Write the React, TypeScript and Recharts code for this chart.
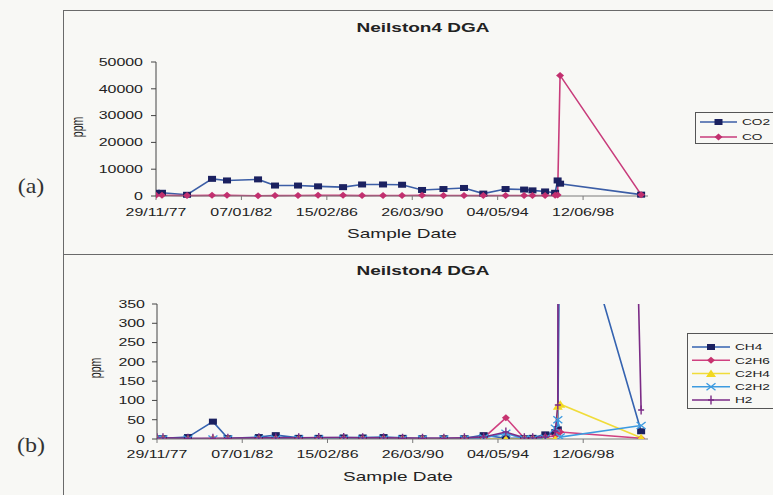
import { LineChart, Line, XAxis, YAxis } from 'recharts';

// oil sample dates (yyyy-mm-dd), shared by both panels
const sampleDates = [
  '1977-11-29', '1978-03-14', '1979-05-28', '1980-08-09', '1981-04-29',
  '1982-10-26', '1983-08-20', '1984-09-27', '1985-09-14', '1986-11-27',
  '1987-10-27', '1988-10-29', '1989-09-28', '1990-09-14', '1991-09-25',
  '1992-09-20', '1993-08-25', '1994-09-20', '1995-08-11', '1996-01-05',
  '1996-08-14', '1997-02-06', '1997-03-22', '1997-05-04', '2001-03-27',
];

// panel (a), ppm
const co2 = [1200, 1200, 450, 6400, 5800, 6200, 3900, 3900, 3600, 3300, 4300, 4300, 4200, 2250, 2600, 3000, 900, 2600, 2400, 2100, 1700, 1200, 5800, 4600, 500];
const co = [300, 300, 150, 250, 300, 100, 150, 200, 250, 250, 150, 200, 200, 250, 200, 200, 150, 200, 200, 150, 200, 250, 400, 45000, 500];

// panel (b), ppm
const ch4 = [2, 2, 5, 45, 2, 5, 10, 3, 3, 4, 4, 5, 3, 2, 2, 2, 10, 2, 2, 3, 12, 18, 25, 740, 20];
const c2h6 = [1, 1, 0, 1, 1, 1, 1, 1, 1, 2, 2, 2, 2, 1, 1, 1, 3, 55, 2, 2, 5, 8, 18, 18, 2];
const c2h4 = [0, 0, 0, 0, 0, 0, 0, 0, 0, 0, 0, 0, 0, 0, 0, 0, 0, 0, 0, 0, 0, 0, 85, 90, 3];
const c2h2 = [0, 0, 0, 0, 0, 0, 0, 0, 0, 0, 0, 0, 0, 0, 0, 0, 3, 15, 0, 0, 2, 28, 50, 5, 35];
const h2 = [3, 3, 2, 2, 2, 3, 3, 3, 4, 4, 3, 3, 2, 2, 2, 3, 5, 18, 3, 3, 5, 20, 88, 9000, 75];

// date axis: ticks every 1500 days
const axisTickDates = ['1977-11-29', '1982-01-07', '1986-02-15', '1990-03-26', '1994-05-04', '1998-06-12'];
const axisEndDate = '2001-07-26';
const topTicks = [0, 10000, 20000, 30000, 40000, 50000];
const bottomTicks = [0, 50, 100, 150, 200, 250, 300, 350];

const toTime = (s: string) => Date.parse(s + 'T00:00:00Z');
const pad = (n: number) => (n < 10 ? '0' + n : '' + n);
const fmtDate = (t: number) => {
  const d = new Date(t);
  return `${pad(d.getUTCDate())}/${pad(d.getUTCMonth() + 1)}/${pad(d.getUTCFullYear() % 100)}`;
};

const xTicks = axisTickDates.map(toTime);
const xDomain = [toTime(axisTickDates[0]), toTime(axisEndDate)];

const topData = sampleDates.map((d, i) => ({ t: toTime(d), CO2: co2[i], CO: co[i] }));
const bottomData = sampleDates.map((d, i) => ({
  t: toTime(d),
  CH4: ch4[i],
  C2H6: c2h6[i],
  C2H4: c2h4[i],
  C2H2: c2h2[i],
  H2: h2[i],
}));

const FONT = "'Liberation Sans', Arial, sans-serif";
const STRETCH = 1.52; // the scan is widened horizontally
const INK = '#222';

const topSeries = [
  { key: 'CO2', line: '#3c5ea6', mark: '#1b2160', shape: 'square' },
  { key: 'CO', line: '#c83c7b', mark: '#c2306f', shape: 'diamond' },
];
const bottomSeries = [
  { key: 'CH4', line: '#3563b0', mark: '#1b2160', shape: 'square' },
  { key: 'C2H6', line: '#d04080', mark: '#c7336f', shape: 'diamond' },
  { key: 'C2H4', line: '#f0dc3a', mark: '#f2d820', shape: 'triangle' },
  { key: 'C2H2', line: '#3d9be0', mark: '#3d9be0', shape: 'cross' },
  { key: 'H2', line: '#7b2b86', mark: '#7b2b86', shape: 'plus' },
];

function Marker({ shape, x, y, color }: { shape: string; x: number; y: number; color: string }) {
  if (shape === 'square') return <rect x={x - 4} y={y - 3} width={8} height={6} fill={color} />;
  if (shape === 'diamond')
    return <polygon points={`${x},${y - 3.5} ${x + 4},${y} ${x},${y + 3.5} ${x - 4},${y}`} fill={color} />;
  if (shape === 'triangle')
    return <polygon points={`${x},${y - 4} ${x + 5},${y + 3.5} ${x - 5},${y + 3.5}`} fill={color} />;
  if (shape === 'cross')
    return (
      <path
        d={`M${x - 4.5},${y - 3.5}L${x + 4.5},${y + 3.5}M${x - 4.5},${y + 3.5}L${x + 4.5},${y - 3.5}`}
        stroke={color}
        strokeWidth={1.4}
        fill="none"
      />
    );
  return <path d={`M${x},${y - 4.5}V${y + 4.5}M${x - 3},${y}H${x + 3}`} stroke={color} strokeWidth={1.4} fill="none" />;
}

const dotFor = (shape: string, color: string) => (p: any) => (
  <g key={`${shape}-${p.index}`}>
    {p.cx != null && p.cy != null && <Marker shape={shape} x={p.cx} y={p.cy} color={color} />}
  </g>
);

function DateTick(props: any) {
  const { x, y, payload } = props;
  return (
    <text
      transform={`translate(${x},${y + 13.5}) scale(${STRETCH},1)`}
      textAnchor="middle"
      fontSize={10.5}
      fontFamily={FONT}
      fill={INK}
    >
      {fmtDate(payload.value)}
    </text>
  );
}

function ValueTick(props: any) {
  const { x, y, payload } = props;
  return (
    <text
      transform={`translate(${x},${y}) scale(${STRETCH},1)`}
      textAnchor="end"
      dy="0.36em"
      fontSize={10.5}
      fontFamily={FONT}
      fill={INK}
    >
      {payload.value}
    </text>
  );
}

function Wide({ x, y, size, bold, rotate, children }: any) {
  return (
    <text
      transform={`translate(${x},${y}) scale(${STRETCH},1)${rotate ? ' rotate(-90)' : ''}`}
      textAnchor="middle"
      dy={rotate ? '0.16em' : undefined}
      fontSize={size}
      fontWeight={bold ? 'bold' : 'normal'}
      fontFamily={FONT}
      fill={INK}
    >
      {children}
    </text>
  );
}

function LegendBox({ x, y, h, rows, lineX1, lineX2, textX, series }: any) {
  return (
    <g>
      <rect x={x} y={y} width={120} height={h} fill="none" stroke="#555" strokeWidth={1} />
      {series.map((s: any, i: number) => {
        const ry = rows[i];
        return (
          <g key={s.key}>
            <line x1={lineX1} y1={ry} x2={lineX2} y2={ry} stroke={s.line} strokeWidth={1.6} />
            <Marker shape={s.shape} x={(lineX1 + lineX2) / 2} y={ry} color={s.mark} />
            <text
              transform={`translate(${textX},${ry + 3.2}) scale(${STRETCH},1)`}
              fontSize={9}
              fontFamily={FONT}
              fill={INK}
            >
              {s.key}
            </text>
          </g>
        );
      })}
    </g>
  );
}

export default function App() {
  return (
    <div
      style={{
        position: 'absolute',
        left: 0,
        top: 0,
        width: 773,
        height: 495,
        overflow: 'hidden',
        background: '#f8f8f5',
      }}
    >
      <div style={{ position: 'absolute', left: 0, top: 0 }}>
        <LineChart width={773} height={254} data={topData} margin={{ top: 62, right: 125, bottom: 28, left: 96 }}>
          <XAxis
            dataKey="t"
            type="number"
            domain={xDomain}
            ticks={xTicks}
            interval={0}
            allowDataOverflow
            tick={DateTick}
            tickSize={4}
            tickMargin={2}
            height={30}
            stroke="#7a7a7a"
          />
          <YAxis
            type="number"
            domain={[0, 50000]}
            ticks={topTicks}
            interval={0}
            tick={ValueTick}
            tickSize={5}
            tickMargin={8}
            width={60}
            stroke="#444"
          />
          {topSeries.map((s) => (
            <Line
              key={s.key}
              type="linear"
              dataKey={s.key}
              stroke={s.line}
              strokeWidth={1.6}
              dot={dotFor(s.shape, s.mark)}
              activeDot={false}
              isAnimationActive={false}
            />
          ))}
        </LineChart>
      </div>

      <div style={{ position: 'absolute', left: 0, top: 254 }}>
        <LineChart width={773} height={241} data={bottomData} margin={{ top: 50, right: 125, bottom: 26, left: 97 }}>
          <XAxis
            dataKey="t"
            type="number"
            domain={xDomain}
            ticks={xTicks}
            interval={0}
            allowDataOverflow
            tick={DateTick}
            tickSize={4}
            tickMargin={1}
            height={30}
            stroke="#7a7a7a"
          />
          <YAxis
            type="number"
            domain={[0, 350]}
            ticks={bottomTicks}
            interval={0}
            allowDataOverflow
            tick={ValueTick}
            tickSize={5}
            tickMargin={7}
            width={60}
            stroke="#444"
          />
          {bottomSeries.map((s) => (
            <Line
              key={s.key}
              type="linear"
              dataKey={s.key}
              stroke={s.line}
              strokeWidth={1.6}
              dot={dotFor(s.shape, s.mark)}
              activeDot={false}
              isAnimationActive={false}
            />
          ))}
        </LineChart>
      </div>

      <svg width={773} height={495} style={{ position: 'absolute', left: 0, top: 0, pointerEvents: 'none' }}>
        <line x1={63.5} y1={10.5} x2={773} y2={10.5} stroke="#6a6a6a" />
        <line x1={63.5} y1={10} x2={63.5} y2={495} stroke="#6a6a6a" />
        <line x1={63.5} y1={254.5} x2={773} y2={254.5} stroke="#6a6a6a" />

        <Wide x={423} y={31.5} size={12.5} bold>Neilston4 DGA</Wide>
        <Wide x={402} y={238} size={12.5}>Sample Date</Wide>
        <Wide x={80} y={127} size={10.5} rotate>ppm</Wide>

        <Wide x={423} y={275} size={12.5} bold>Neilston4 DGA</Wide>
        <Wide x={398} y={481} size={12.5}>Sample Date</Wide>
        <Wide x={98} y={368} size={10.5} rotate>ppm</Wide>

        <text transform="translate(31,193) scale(1.2,1)" textAnchor="middle" fontSize={20} fontFamily="'Liberation Serif', serif" fill="#333">
          (a)
        </text>
        <text transform="translate(31,452) scale(1.2,1)" textAnchor="middle" fontSize={20} fontFamily="'Liberation Serif', serif" fill="#333">
          (b)
        </text>

        <LegendBox x={695.5} y={112.5} h={31} rows={[122, 137]} lineX1={700} lineX2={737} textX={742} series={topSeries} />
        <LegendBox
          x={687.5}
          y={333.5}
          h={75}
          rows={[347, 360.3, 373.5, 386.8, 400]}
          lineX1={692}
          lineX2={730}
          textX={735}
          series={bottomSeries}
        />
      </svg>
    </div>
  );
}
